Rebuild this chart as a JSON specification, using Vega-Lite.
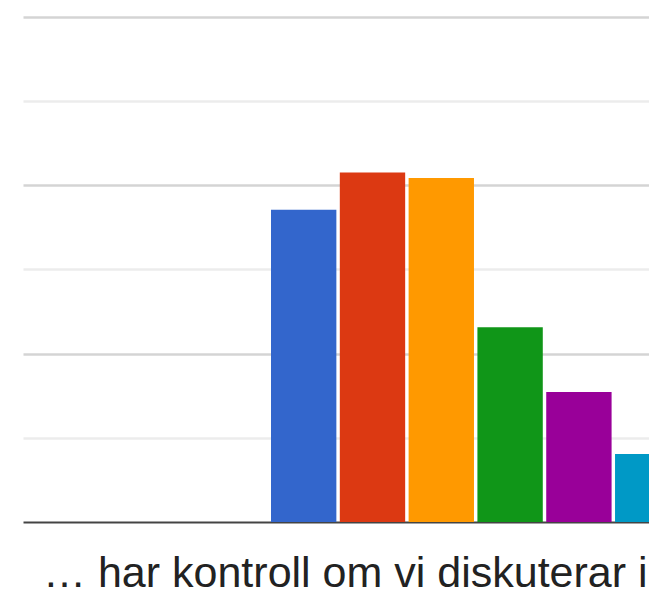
{
  "$schema": "https://vega.github.io/schema/vega-lite/v6.json",
  "width": 626,
  "height": 522,
  "autosize": {"type": "none"},
  "padding": {"left": 23, "top": 0, "right": 0, "bottom": 72},
  "background": "white",
  "config": {"view": {"stroke": null}, "font": "Liberation Sans"},
  "data": {
    "values": [
      {"q": "… har kontroll om vi diskuterar i", "s": "A", "v": 18.55},
      {"q": "… har kontroll om vi diskuterar i", "s": "B", "v": 20.76},
      {"q": "… har kontroll om vi diskuterar i", "s": "C", "v": 20.43},
      {"q": "… har kontroll om vi diskuterar i", "s": "D", "v": 11.56},
      {"q": "… har kontroll om vi diskuterar i", "s": "E", "v": 7.72},
      {"q": "… har kontroll om vi diskuterar i", "s": "F", "v": 4.04}
    ]
  },
  "mark": {"type": "bar", "clip": true},
  "encoding": {
    "x": {
      "field": "q",
      "type": "nominal",
      "scale": {"paddingInner": 0, "paddingOuter": 0},
      "axis": {
        "title": null,
        "ticks": false,
        "tickSize": 0,
        "domainColor": "#444444",
        "domainWidth": 2,
        "labelAngle": 0,
        "labelAlign": "left",
        "labelBaseline": "alphabetic",
        "labelOffset": -293,
        "labelPadding": 64.5,
        "labelLimit": 0,
        "labelFontSize": 43,
        "labelColor": "#222222",
        "labelFont": "Liberation Sans"
      }
    },
    "xOffset": {
      "field": "s",
      "type": "nominal",
      "scale": {"range": [248, 657.4], "paddingInner": 0.05, "paddingOuter": 0}
    },
    "y": {
      "field": "v",
      "type": "quantitative",
      "scale": {"domain": [0, 31], "nice": false},
      "axis": {
        "title": null,
        "labels": false,
        "ticks": false,
        "domain": false,
        "values": [5, 10, 15, 20, 25, 30],
        "gridColor": {"condition": {"test": "datum.value % 10 === 0", "value": "#d4d4d4"}, "value": "#ececec"},
        "gridWidth": 2.5
      }
    },
    "color": {
      "field": "s",
      "type": "nominal",
      "legend": null,
      "scale": {"domain": ["A", "B", "C", "D", "E", "F"], "range": ["#3366cc", "#dc3912", "#ff9900", "#109618", "#990099", "#0099c6"]}
    }
  }
}
